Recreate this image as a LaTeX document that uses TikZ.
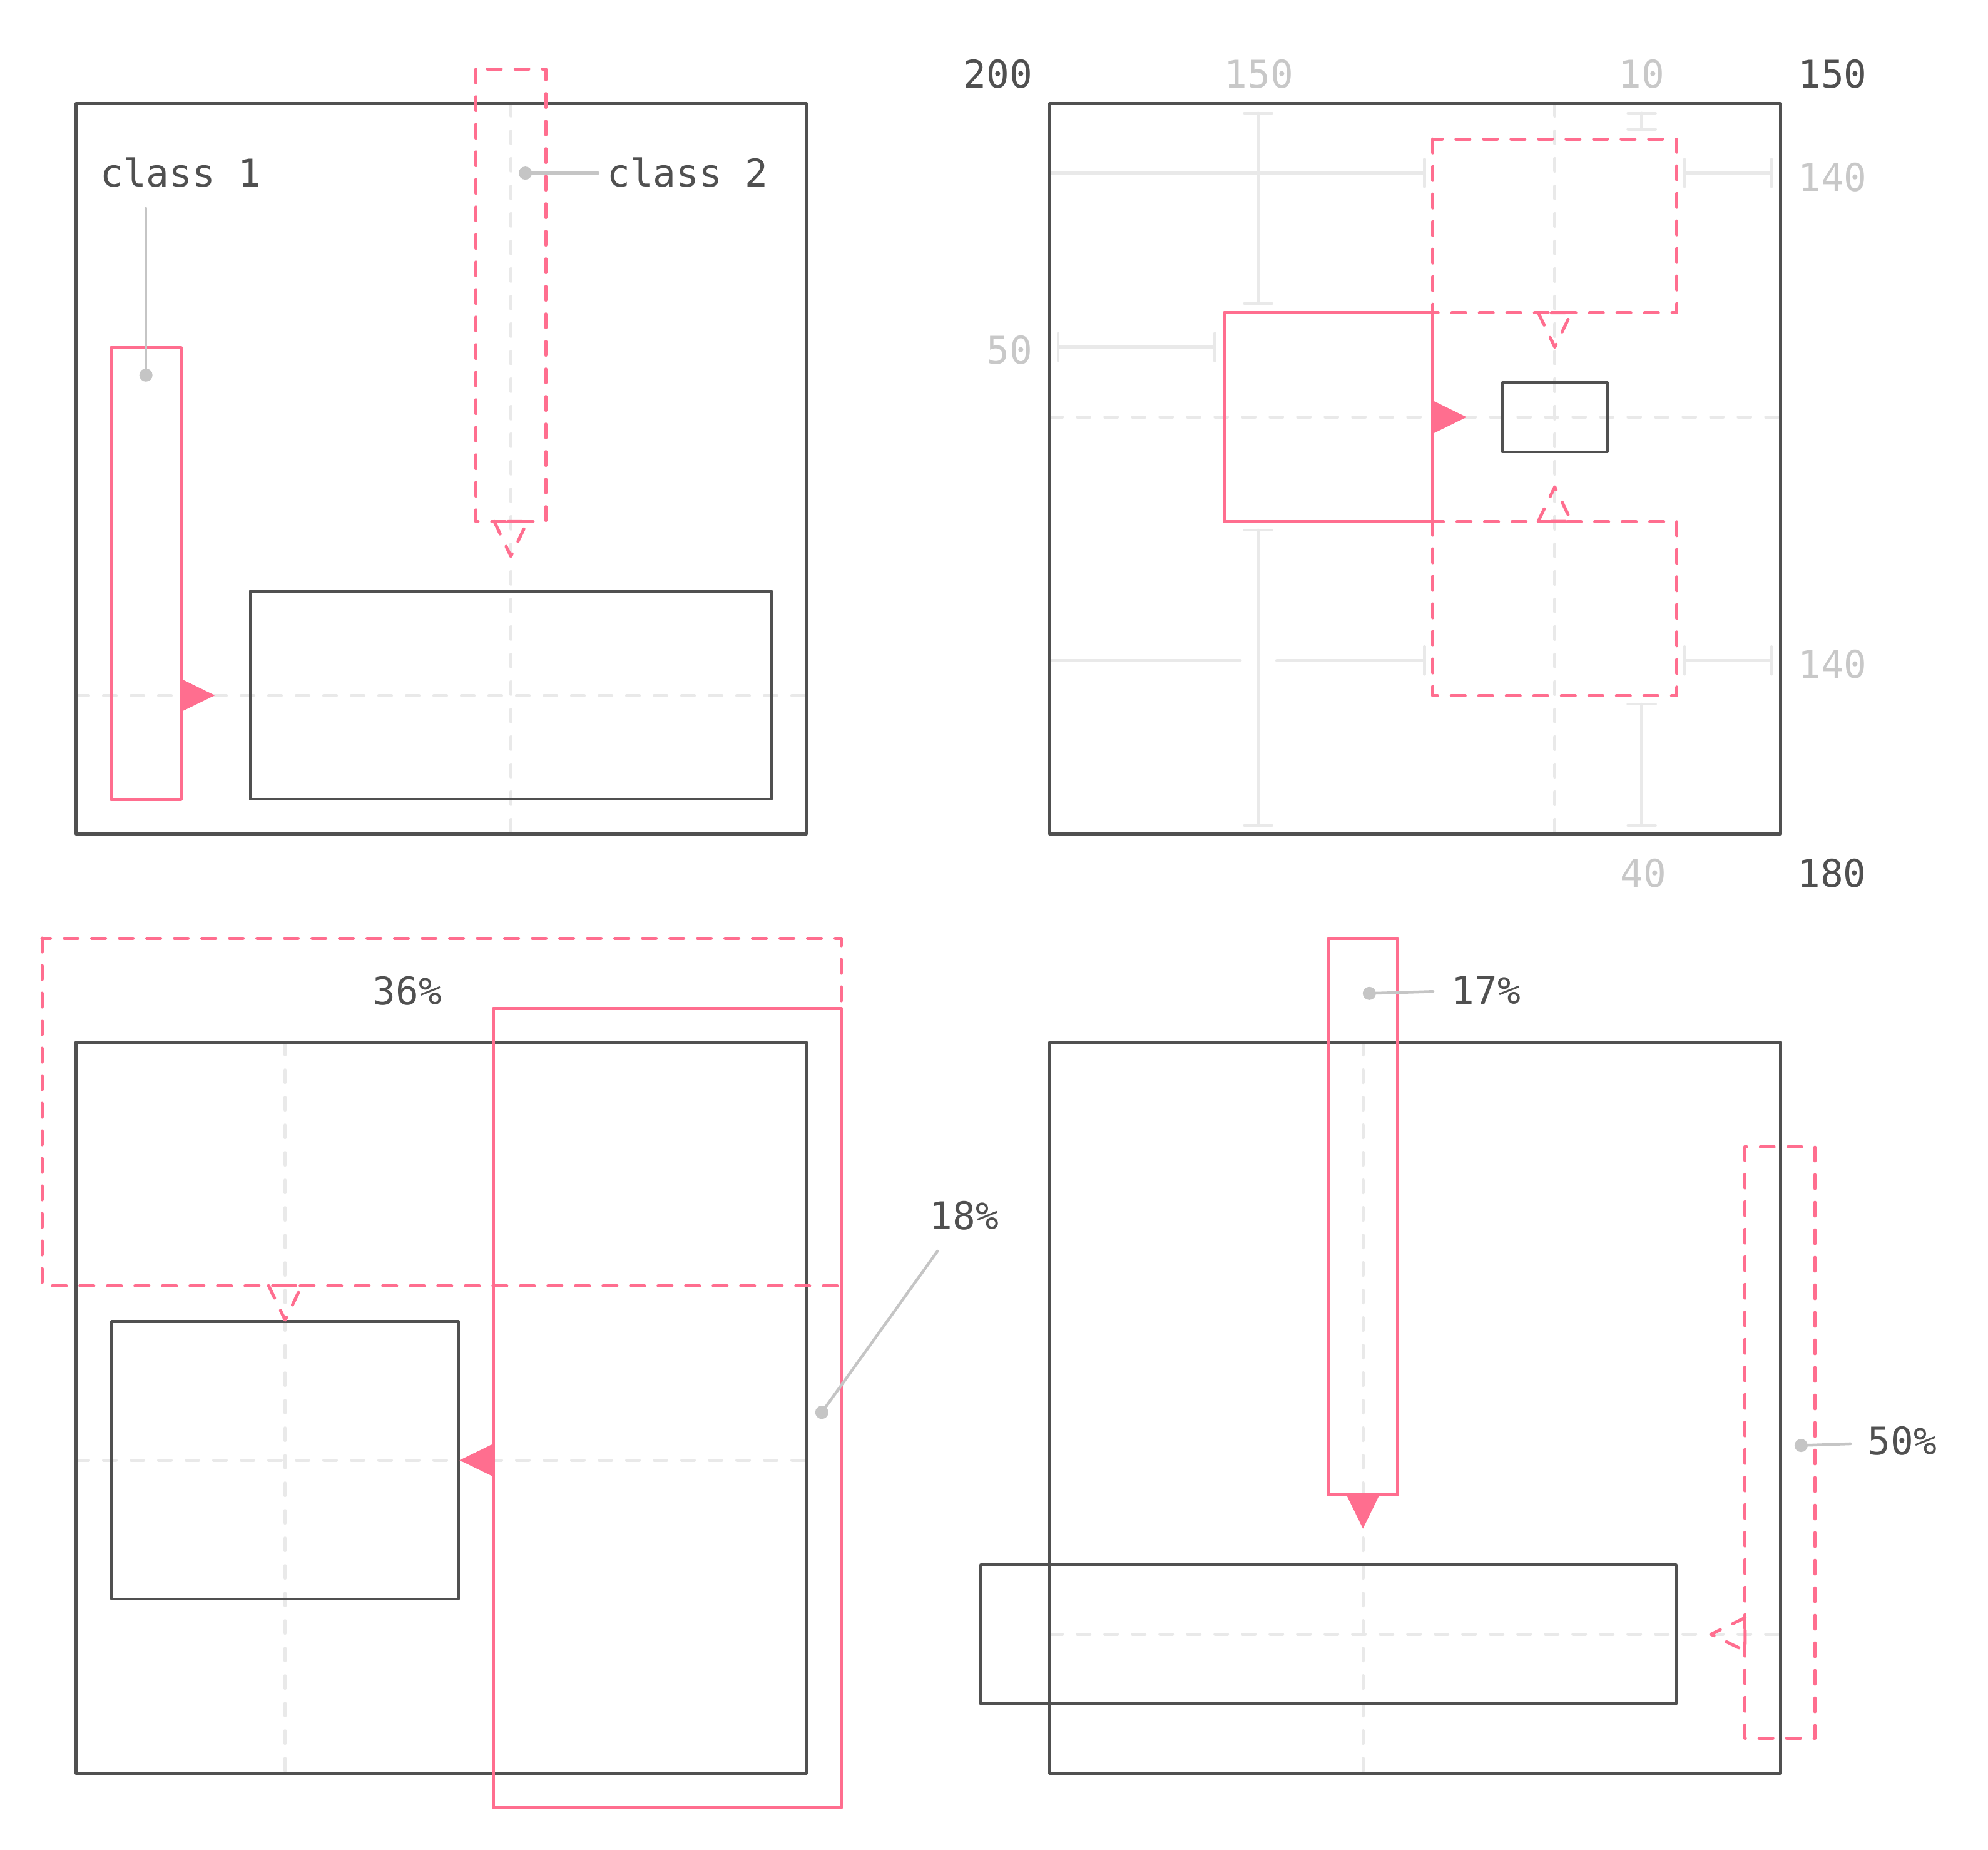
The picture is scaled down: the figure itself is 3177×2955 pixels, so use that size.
\documentclass[tikz,border=0pt]{standalone}
\usepackage{fontspec}
\setmainfont{DejaVu Sans Mono}
\definecolor{dk}{RGB}{80,80,80}
\definecolor{pk}{RGB}{255,110,143}
\definecolor{ldr}{RGB}{197,197,197}
\definecolor{lgr}{RGB}{233,233,233}
\definecolor{ltx}{RGB}{200,200,200}
\begin{document}
\begin{tikzpicture}[x=1pt,y=-1pt,
  boxdk/.style={draw=dk,line width=4.5pt,line join=round},
  boxpk/.style={draw=pk,line width=5pt,line join=round},
  boxpkdash/.style={draw=pk,line width=5pt,dash pattern=on 22pt off 22pt,line cap=round,line join=round},
  guide/.style={draw=lgr,line width=5pt,dash pattern=on 20pt off 24pt,line cap=round},
  dimline/.style={draw=lgr,line width=4.5pt,line cap=round},
  leader/.style={draw=ldr,line width=4.5pt,line cap=round},
  arrfill/.style={fill=pk},
  lab/.style={text=dk,font=\fontsize{61}{70}\selectfont,inner sep=0pt,anchor=base},
  glab/.style={lab,text=ltx}]
\useasboundingbox (0,0) rectangle (3177,2955);

% ---------- guides (behind) ----------
\draw[guide] (816.4,165.4) -- (816.4,1332.7);
\draw[guide] (121.5,1111) -- (1288.6,1111);
\draw[guide] (2484.7,165.4) -- (2484.7,1332.6);
\draw[guide] (1677.7,666.5) -- (2844.8,666.5);
\draw[guide] (455.7,1665.6) -- (455.7,2833.4);
\draw[guide] (121.5,2333.2) -- (1288.6,2333.2);
\draw[guide] (2178.5,1665.6) -- (2178.5,2833.4);
\draw[guide] (1677.7,2611.3) -- (2844.8,2611.3);

% ---------- dimension lines panel 2 ----------
\draw[dimline] (2010.7,180.8) -- (2010.7,484.9) (1988.7,180.8) -- (2032.7,180.8) (1988.7,484.9) -- (2032.7,484.9);
\draw[dimline] (2010.7,846.8) -- (2010.7,1318.9) (1988.7,846.8) -- (2032.7,846.8) (1988.7,1318.9) -- (2032.7,1318.9);
\draw[dimline] (2623.6,180.8) -- (2623.6,206.6) (2601.6,180.8) -- (2645.6,180.8) (2601.6,206.6) -- (2645.6,206.6);
\draw[dimline] (2623.6,1125.1) -- (2623.6,1318.9) (2601.6,1125.1) -- (2645.6,1125.1) (2601.6,1318.9) -- (2645.6,1318.9);
\draw[dimline] (1677.7,276.4) -- (2276.3,276.4) (2276.3,254.4) -- (2276.3,298.4);
\draw[dimline] (2692.1,276.4) -- (2831,276.4) (2692.1,254.4) -- (2692.1,298.4) (2831,254.4) -- (2831,298.4);
\draw[dimline] (1691,554.7) -- (1941.3,554.7) (1691,532.7) -- (1691,576.7) (1941.3,532.7) -- (1941.3,576.7);
\draw[dimline] (1677.7,1055.3) -- (1982.1,1055.3);
\draw[dimline] (2040.3,1055.3) -- (2276.3,1055.3) (2276.3,1033.3) -- (2276.3,1077.3);
\draw[dimline] (2692.1,1055.3) -- (2831,1055.3) (2692.1,1033.3) -- (2692.1,1077.3) (2831,1033.3) -- (2831,1077.3);

% ---------- panel 1 ----------
\draw[boxdk] (121.5,165.4) rectangle (1288.6,1332.7);
\draw[boxpk] (177.4,555.4) rectangle (289.1,1277.1);
\draw[boxdk] (399.9,944.5) rectangle (1232.7,1277.1);
\draw[boxpkdash] (760.5,110.7) rectangle (872.2,833.3);
\fill[arrfill] (289.1,1084.5) -- (343.3,1111) -- (289.1,1137.5) -- cycle;
\draw[boxpkdash] (789.9,833.3) -- (816.4,888.9) -- (842.9,833.3) -- cycle;

% ---------- panel 2 ----------
\draw[boxdk] (1677.7,165.4) rectangle (2844.8,1332.6);
\draw[boxpk] (1956.6,499.6) rectangle (2289.6,833);
\draw[boxpkdash] (2289.6,222.2) rectangle (2679.8,499.6);
\draw[boxpkdash] (2289.6,833) rectangle (2679.8,1111.3);
\draw[boxdk] (2400.9,611.6) rectangle (2568.4,721.9);
\fill[arrfill] (2289.6,640) -- (2343.7,666.5) -- (2289.6,693) -- cycle;
\draw[boxpkdash] (2458.2,499.6) -- (2484.7,554.6) -- (2511.2,499.6) -- cycle;
\draw[boxpkdash] (2458.2,833) -- (2484.7,778) -- (2511.2,833) -- cycle;

% ---------- panel 3 ----------
\draw[boxdk] (121.5,1665.6) rectangle (1288.6,2833.4);
\draw[boxpkdash] (67,1499) rectangle (1344.6,2054.2);
\draw[boxpk] (788.9,1611) rectangle (1344.6,2888.9);
\draw[boxdk] (178.7,2111.6) rectangle (732.6,2554.8);
\fill[arrfill] (788.9,2306.7) -- (734.4,2333.2) -- (788.9,2359.7) -- cycle;
\draw[boxpkdash] (429.2,2054.2) -- (455.7,2109.2) -- (482.2,2054.2) -- cycle;

% ---------- panel 4 ----------
\draw[boxdk] (1677.7,1665.6) rectangle (2844.8,2833.4);
\draw[boxpk] (2122.3,1499) rectangle (2233.9,2388.3);
\draw[boxdk] (1567.4,2500.3) rectangle (2678.3,2722.3);
\draw[boxpkdash] (2788.8,1832.2) rectangle (2900.4,2777.8);
\fill[arrfill] (2151.6,2388.3) -- (2178.1,2442.5) -- (2204.6,2388.3) -- cycle;
\draw[boxpkdash] (2788.8,2584.8) -- (2734.3,2611.3) -- (2788.8,2637.8) -- cycle;

% ---------- labels ----------
\node[lab] (c1) at (289,298.5) {class 1};
\node[lab] (c2) at (1099,298.5) {class 2};
\node[lab] (t200) at (1594.7,140) {200};
\node[glab] (t150a) at (2011.7,140) {150};
\node[glab] (t10) at (2623.6,140) {10};
\node[lab] (t150b) at (2928.5,140) {150};
\node[glab] (t140a) at (2928.5,305.7) {140};
\node[glab] (t50) at (1613.4,581.4) {50};
\node[glab] (t140b) at (2928.5,1083.7) {140};
\node[glab] (t40) at (2626,1417.3) {40};
\node[lab] (t180) at (2927.5,1417.3) {180};
\node[lab] (p36) at (650.9,1605.5) {36\%};
\node[lab] (p18) at (1540.8,1964) {18\%};
\node[lab] (p17) at (2375,1604) {17\%};
\node[lab] (p50) at (3040,2324.4) {50\%};

% ---------- leaders ----------
\coordinate (l1a) at (233.2,333);   \coordinate (l1b) at (233.2,599.3);
\coordinate (l2a) at (956,276.6);   \coordinate (l2b) at (839.5,276.6);
\coordinate (l3a) at (1498.3,1999); \coordinate (l3b) at (1313.3,2256.7);
\coordinate (l4a) at (2290,1584.3); \coordinate (l4b) at (2188.3,1587.3);
\coordinate (l5a) at (2957.3,2306.9); \coordinate (l5b) at (2878.3,2309.6);
\foreach \a/\b in {l1a/l1b,l2a/l2b,l3a/l3b,l4a/l4b,l5a/l5b}{
  \draw[leader] (\a) -- (\b);
  \fill[ldr] (\b) circle[radius=10.5pt];
}
\end{tikzpicture}
\end{document}
